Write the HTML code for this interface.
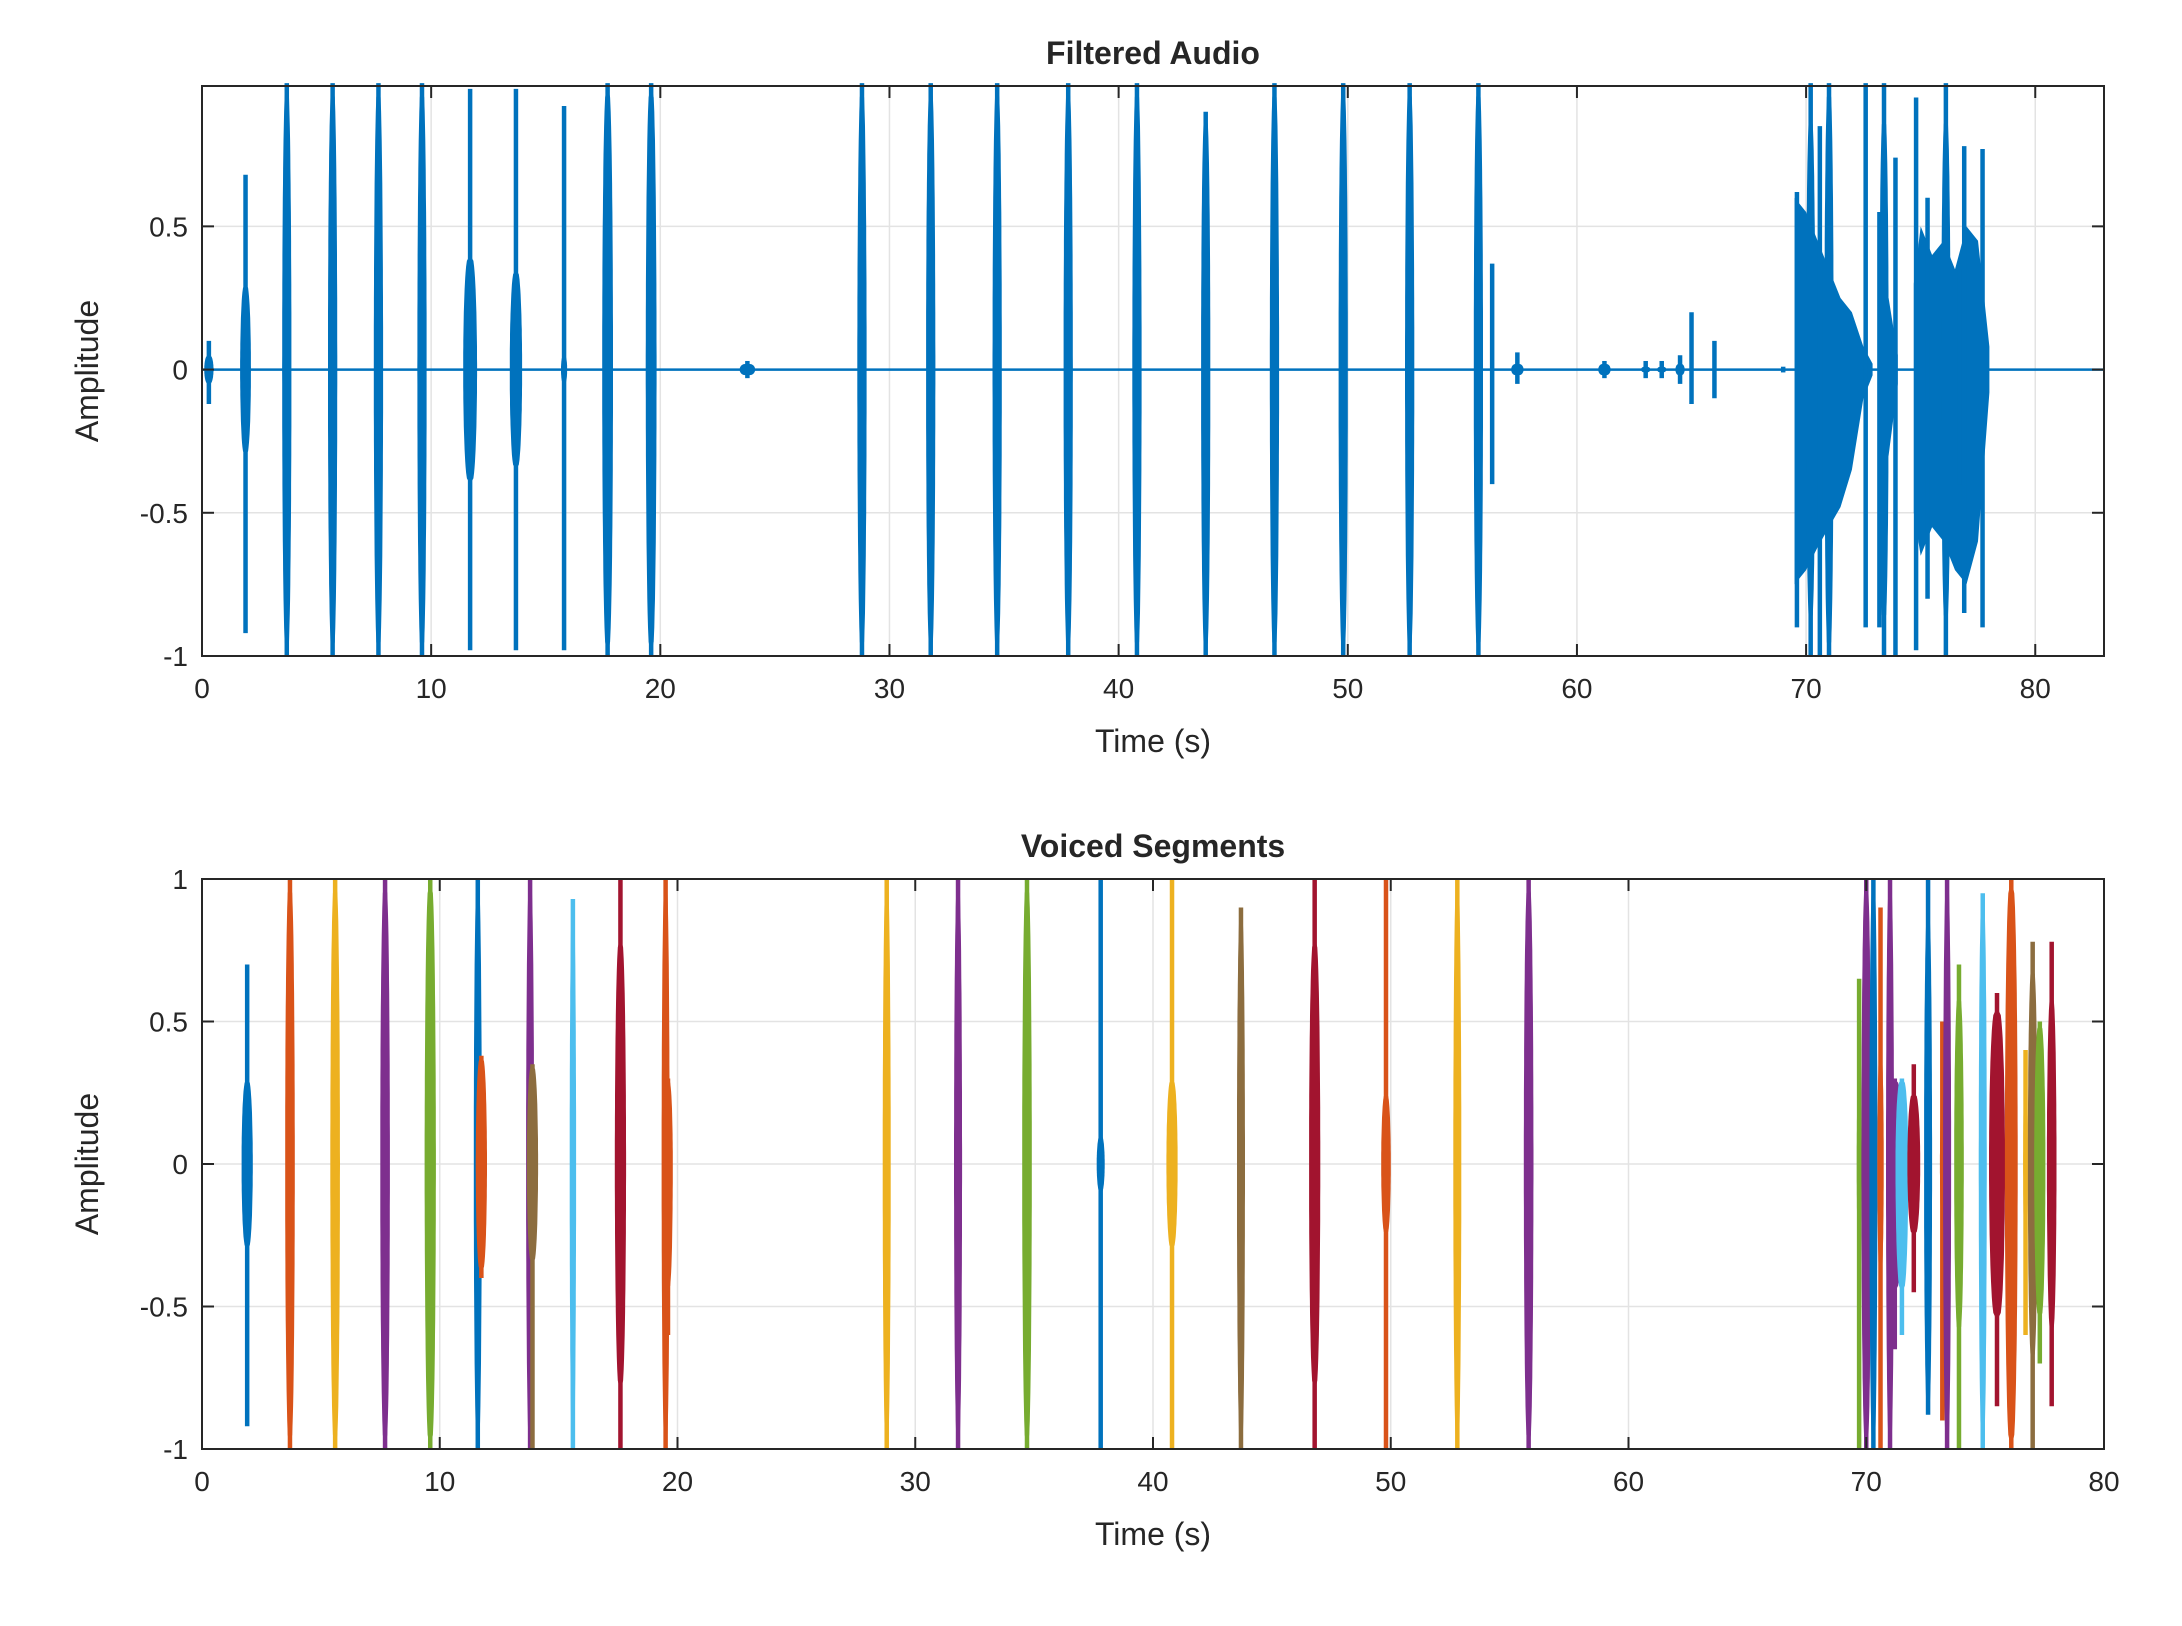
<!DOCTYPE html>
<html><head><meta charset="utf-8">
<style>
html,body{margin:0;padding:0;background:#fff;}
svg{display:block;}
text{font-family:"Liberation Sans",Arial,sans-serif;fill:#262626;}
</style></head>
<body>
<svg id="fig" width="2182" height="1626" viewBox="0 0 2182 1626" xmlns="http://www.w3.org/2000/svg">
<rect width="2182" height="1626" fill="#fff"/>
</svg>
<script>
// ---------- data: Filtered Audio (top) ----------
const topTicksX = [0,10,20,30,40,50,60,70,80];
const topTicksY = [-1,-0.5,0,0.5];
const topTickLabelsY = ["-1","-0.5","0","0.5"];
const topT    = [0.3,1.9,3.7,5.7,7.7,9.6,11.7,13.7,15.8,17.7,19.6,23.8,28.8,31.8,34.7,37.8,40.8,43.8,46.8,49.8,52.7,55.7,56.3,57.4,61.2,63.0,63.7,64.5,65.0,66.0,69.0,
                 69.6,70.2,70.6,71.0,72.6,73.2,73.4,73.9,74.8,75.3,76.1,76.7,76.9,77.7];
const topHi   = [0.1,0.68,1,1,1,1,0.98,0.98,0.92,1,1,0.03,1,1,1,1,1,0.9,1,1,1,1,0.37,0.06,0.03,0.03,0.03,0.05,0.2,0.1,0.01,
                 0.62,1,0.85,1,1,0.55,1,0.74,0.95,0.6,1,0.35,0.78,0.77];
const topLo   = [-0.12,-0.92,-1,-1,-1,-1,-0.98,-0.98,-0.98,-1,-1,-0.03,-1,-1,-1,-1,-1,-1,-1,-1,-1,-1,-0.4,-0.05,-0.03,-0.03,-0.03,-0.05,-0.12,-0.1,-0.01,
                 -0.9,-1,-1,-1,-0.9,-0.9,-1,-1,-0.98,-0.8,-1,-0.4,-0.85,-0.9];
const topBody = [0.05,0.3,1,1,1,1,0.4,0.35,0.05,1,1,0.02,1,1,1,1,1,1,1,1,1,1,0,0.02,0.02,0.01,0.01,0.02,0,0,0,
                 0,0.9,0,1,0,0,0.9,0,0,0,0.9,0,0,0];
const topW    = [0.3,0.35,0.3,0.3,0.3,0.3,0.45,0.4,0.2,0.35,0.35,0.5,0.3,0.3,0.3,0.3,0.3,0.3,0.3,0.3,0.3,0.3,0.1,0.4,0.4,0.3,0.3,0.3,0.1,0.1,0.2,
                 0.1,0.3,0.1,0.3,0.1,0.1,0.3,0.1,0.1,0.1,0.3,0.1,0.1,0.1];
const cl1T  = [69.5,70,70.5,71,71.5,72,72.5,72.9];
const cl1Hi = [0.6,0.55,0.45,0.35,0.25,0.2,0.08,0.02];
const cl1Lo = [-0.75,-0.7,-0.62,-0.55,-0.48,-0.35,-0.1,-0.02];
const cl2T  = [73.3,73.6,74.0];
const cl2Hi = [0.3,0.25,0.05];
const cl2Lo = [-0.35,-0.3,-0.05];
const cl3T  = [74.7,75,75.5,76,76.5,77,77.5,78];
const cl3Hi = [0.3,0.5,0.4,0.45,0.35,0.5,0.45,0.08];
const cl3Lo = [-0.5,-0.65,-0.55,-0.6,-0.7,-0.75,-0.6,-0.08];

// ---------- data: Voiced Segments (bottom) ----------
const botTicksX = [0,10,20,30,40,50,60,70,80];
const botTicksY = [-1,-0.5,0,0.5,1];
const botTickLabelsY = ["-1","-0.5","0","0.5","1"];
const palette = ["#0072BD","#D95319","#EDB120","#7E2F8E","#77AC30","#4DBEEE","#A2142F","#8C6D3F"];
const botT      = [1.9,3.7,5.6,7.7,9.6,11.6,11.75,13.8,13.9,15.6,17.6,19.5,19.6,28.8,31.8,34.7,37.8,40.8,43.7,46.8,49.8,52.8,55.8,
                   69.7,70.0,70.3,70.6,71.0,71.2,71.5,72.0,72.6,73.2,73.4,73.9,74.9,75.5,76.1,76.7,77.0,77.3,77.8];
const botHi     = [0.7,1,1,1,1,1,0.38,1,0.35,0.93,1,1,0.3,1,1,1,1,1,0.9,1,1,1,1,
                   0.65,1,1,0.9,1,0.3,0.3,0.35,1,0.5,1,0.7,0.95,0.6,1,0.4,0.78,0.5,0.78];
const botLo     = [-0.92,-1,-1,-1,-1,-1,-0.4,-1,-1,-1,-1,-1,-0.6,-1,-1,-1,-1,-1,-1,-1,-1,-1,-1,
                   -1,-1,-1,-1,-1,-0.65,-0.6,-0.45,-0.88,-0.9,-1,-1,-1,-0.85,-1,-0.6,-1,-0.7,-0.85];
const botBody   = [0.3,1,1,1,1,1,0.38,1,0.35,1,0.8,1,0.45,1,1,1,0.1,0.3,1,0.8,0.25,1,1,
                   0.3,1,1,0.4,1,0.45,0.45,0.25,0.9,0.2,1,0.6,1,0.55,1,0.3,0.7,0.55,0.6];
const botW      = [0.35,0.3,0.3,0.3,0.35,0.25,0.35,0.25,0.35,0.2,0.35,0.25,0.3,0.25,0.25,0.3,0.25,0.35,0.25,0.35,0.3,0.25,0.3,
                   0.15,0.3,0.25,0.2,0.25,0.45,0.4,0.4,0.25,0.15,0.25,0.3,0.25,0.5,0.4,0.15,0.3,0.35,0.3];
const botColor  = [0,1,2,3,4,0,1,3,7,5,6,1,1,2,3,4,0,2,7,6,1,2,3,
                   4,3,0,1,3,3,5,6,0,1,3,4,5,6,1,2,7,4,6];

// ---------- drawing ----------
const NS = "http://www.w3.org/2000/svg";
const svg = document.getElementById("fig");
const WIDTH_SCALE = 1.35;
function mk(tag, attrs, parent){
  const e = document.createElementNS(NS, tag);
  for (const k in attrs) e.setAttribute(k, attrs[k]);
  (parent||svg).appendChild(e);
  return e;
}
function makeAxes(cfg){
  const x = v => cfg.L + (v - cfg.x0)/(cfg.x1 - cfg.x0)*(cfg.R - cfg.L);
  const y = v => cfg.B - (v - cfg.y0)/(cfg.y1 - cfg.y0)*(cfg.B - cfg.T);
  return {x, y};
}
function drawAxesFrame(cfg, ax, g, ticksX, ticksY){
  ticksX.forEach(v=>{
    const gl = mk("line",{x1:ax.x(v),x2:ax.x(v),y1:cfg.T,y2:cfg.B,stroke:"#e3e3e3","stroke-width":1.5}, g);
    
    
  });
  ticksY.forEach(v=>{
    const gl = mk("line",{x1:cfg.L,x2:cfg.R,y1:ax.y(v),y2:ax.y(v),stroke:"#e3e3e3","stroke-width":1.5}, g);
    
    
  });
}
function drawAxesBox(cfg, ax, g, ticksX, ticksY, labelsY, title, prefix){
  const box = mk("rect",{x:cfg.L,y:cfg.T,width:cfg.R-cfg.L,height:cfg.B-cfg.T,fill:"none",stroke:"#262626","stroke-width":2}, g);
  
  
  ticksX.forEach(v=>{
    const X = ax.x(v);
    mk("line",{x1:X,x2:X,y1:cfg.B,y2:cfg.B-12,stroke:"#262626","stroke-width":2}, g);
    mk("line",{x1:X,x2:X,y1:cfg.T,y2:cfg.T+12,stroke:"#262626","stroke-width":2}, g);
    const t = mk("text",{x:X,y:cfg.B+42,"font-size":28,"text-anchor":"middle"}, g);
    t.textContent = String(v);
    
    
  });
  ticksY.forEach((v,i)=>{
    const Y = ax.y(v);
    mk("line",{x1:cfg.L,x2:cfg.L+12,y1:Y,y2:Y,stroke:"#262626","stroke-width":2}, g);
    mk("line",{x1:cfg.R,x2:cfg.R-12,y1:Y,y2:Y,stroke:"#262626","stroke-width":2}, g);
    const t = mk("text",{x:cfg.L-14,y:Y+10,"font-size":28,"text-anchor":"end"}, g);
    t.textContent = labelsY[i];
    
    
  });
  const tt = mk("text",{x:(cfg.L+cfg.R)/2,y:cfg.T-22,"font-size":32,"font-weight":"bold","text-anchor":"middle",fill:"#000"}, g);
  tt.textContent = title;
  
  
  const xl = mk("text",{x:(cfg.L+cfg.R)/2,y:cfg.B+96,"font-size":32,"text-anchor":"middle"}, g);
  xl.textContent = "Time (s)";
  
  
  const cy = (cfg.T+cfg.B)/2;
  const yl = mk("text",{x:98,y:cy,"font-size":32,"text-anchor":"middle",transform:`rotate(-90 98 ${cy})`}, g);
  yl.textContent = "Amplitude";
  
  
}
function burst(ax, g, t, hi, lo, body, w, color, name){
  const X = ax.x(t);
  const ln = mk("line",{x1:X,x2:X,y1:ax.y(hi),y2:ax.y(lo),stroke:color,"stroke-width":4.5}, g);
  
  
  if (body > 0){
    const bh = Math.min(body, hi), bl = Math.max(-body, lo);
    const hw = WIDTH_SCALE*(ax.x(t + w/2) - ax.x(t - w/2))/2;
    const y0 = ax.y(0), yh = ax.y(bh), yl = ax.y(bl);
    const prof = f => hw*Math.pow(Math.cos(Math.PI*0.5*f),0.3);
    const pts = [];
    const N = 20;
    for (let i=0;i<=N;i++){ const f=i/N; pts.push([X+prof(f), y0+(yh-y0)*f]); }
    for (let i=N;i>=0;i--){ const f=i/N; pts.push([X-prof(f), y0+(yh-y0)*f]); }
    for (let i=0;i<=N;i++){ const f=i/N; pts.push([X-prof(f), y0+(yl-y0)*f]); }
    for (let i=N;i>=0;i--){ const f=i/N; pts.push([X+prof(f), y0+(yl-y0)*f]); }
    const p = mk("polygon",{points:pts.map(q=>q[0].toFixed(1)+","+q[1].toFixed(1)).join(" "),fill:color}, g);
    
    
  }
}
function cluster(ax, g, T, H, Lo, color){
  const pts = [];
  T.forEach((t,i)=>pts.push(ax.x(t).toFixed(1)+","+ax.y(H[i]).toFixed(1)));
  for (let i=T.length-1;i>=0;i--) pts.push(ax.x(T[i]).toFixed(1)+","+ax.y(Lo[i]).toFixed(1));
  const p = mk("polygon",{points:pts.join(" "),fill:color}, g);
  
  
}

// Top plot
const topCfg = {L:202,R:2104,T:86,B:656,x0:0,x1:83,y0:-1,y1:0.99};
const topAx = makeAxes(topCfg);
const gTop = mk("g",{});


drawAxesFrame(topCfg, topAx, gTop, topTicksX, topTicksY);
const base = mk("line",{x1:topAx.x(0),x2:topAx.x(83),y1:topAx.y(0),y2:topAx.y(0),stroke:"#0072BD","stroke-width":2.5}, gTop);


cluster(topAx, gTop, cl1T, cl1Hi, cl1Lo, "#0072BD");
cluster(topAx, gTop, cl2T, cl2Hi, cl2Lo, "#0072BD");
cluster(topAx, gTop, cl3T, cl3Hi, cl3Lo, "#0072BD");
topT.forEach((t,i)=>burst(topAx, gTop, t, topHi[i], topLo[i], topBody[i], topW[i], "#0072BD", "audio-burst"));
drawAxesBox(topCfg, topAx, gTop, topTicksX, topTicksY, topTickLabelsY, "Filtered Audio", "top");

// Bottom plot
const botCfg = {L:202,R:2104,T:879,B:1449,x0:0,x1:80,y0:-1,y1:1};
const botAx = makeAxes(botCfg);
const gBot = mk("g",{});


drawAxesFrame(botCfg, botAx, gBot, botTicksX, botTicksY);
botT.forEach((t,i)=>burst(botAx, gBot, t, botHi[i], botLo[i], botBody[i], botW[i], palette[botColor[i]], "voiced-segment"));
drawAxesBox(botCfg, botAx, gBot, botTicksX, botTicksY, botTickLabelsY, "Voiced Segments", "bottom");
</script>
</body></html>
